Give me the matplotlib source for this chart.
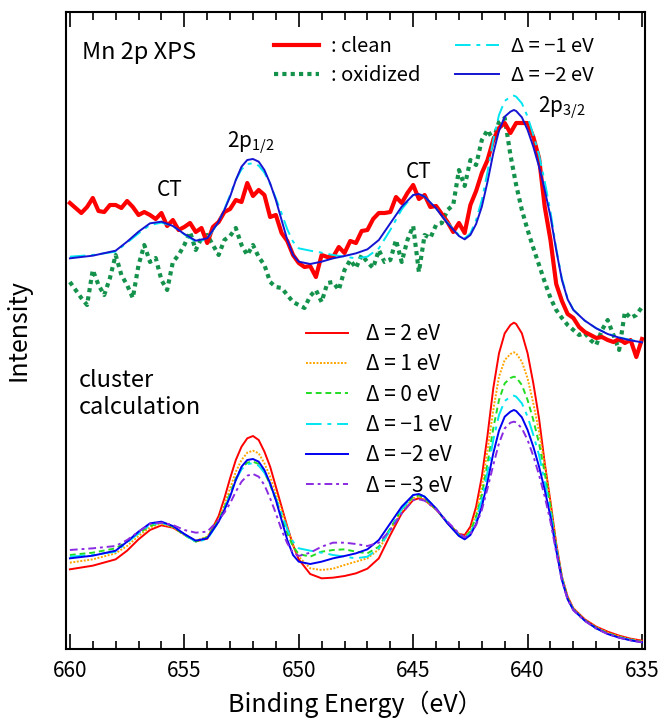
import matplotlib.pyplot as plt
import numpy as np
from matplotlib.ticker import MultipleLocator

plt.rcParams['font.family'] = ['Noto Sans CJK JP', 'DejaVu Sans']
plt.rcParams['mathtext.default'] = 'regular'

# measured XPS spectra (arb. units), 660 -> 635 eV in 0.25 eV steps
exp_energy = np.linspace(660, 635, 101)
clean = [1338, 1323, 1308, 1326, 1353, 1314, 1311, 1332, 1332, 1323,
         1344, 1326, 1302, 1311, 1302, 1290, 1308, 1269, 1287, 1257,
         1266, 1278, 1251, 1263, 1218, 1266, 1281, 1311, 1320, 1347,
         1341, 1398, 1359, 1377, 1362, 1296, 1302, 1248, 1224, 1182,
         1158, 1146, 1149, 1116, 1182, 1176, 1176, 1206, 1188, 1224,
         1218, 1254, 1257, 1290, 1308, 1308, 1311, 1356, 1338, 1368,
         1392, 1350, 1362, 1326, 1329, 1305, 1281, 1251, 1278, 1248,
         1332, 1374, 1428, 1467, 1527, 1563, 1578, 1548, 1578, 1578,
         1578, 1536, 1473, 1326, 1227, 1095, 1044, 1005, 993, 966,
         951, 942, 933, 936, 927, 921, 930, 918, 927, 876, 930]
oxidized = [1101, 1077, 1053, 1032, 1137, 1092, 1062, 1113, 1182, 1122,
            1092, 1053, 1152, 1212, 1161, 1173, 1107, 1077, 1161, 1182,
            1212, 1251, 1197, 1233, 1242, 1212, 1182, 1227, 1239, 1263,
            1212, 1182, 1212, 1176, 1152, 1101, 1086, 1083, 1062, 1041,
            1032, 1023, 1059, 1077, 1041, 1098, 1101, 1077, 1137, 1167,
            1143, 1182, 1161, 1143, 1197, 1161, 1167, 1227, 1161, 1227,
            1269, 1131, 1242, 1233, 1272, 1278, 1317, 1332, 1437, 1389,
            1467, 1452, 1527, 1557, 1527, 1581, 1593, 1482, 1392, 1317,
            1257, 1203, 1152, 1101, 1053, 1017, 993, 972, 957, 942,
            948, 927, 912, 957, 987, 942, 897, 1011, 993, 1002, 1026]

# cluster calculation for several charge-transfer energies
calc_energy = [660, 659, 658, 657.5, 657, 656.5, 656, 655.5, 655, 654.5, 654, 653.5,
               653.25, 653, 652.75, 652.5, 652.25, 652, 651.75, 651.5, 651.25, 651,
               650.75, 650.5, 650.25, 650, 649.5, 649, 648.5, 648, 647.5, 647, 646.5,
               646, 645.5, 645, 644.75, 644.5, 644, 643.5, 643, 642.75, 642.5, 642.25,
               642, 641.75, 641.5, 641.25, 641, 640.75, 640.6, 640.5, 640.25, 640,
               639.75, 639.5, 639.25, 639, 638.75, 638.5, 638.25, 638, 637.5, 637,
               636.5, 636, 635.5, 635]
calc_p2 = [239, 250, 269, 295, 329, 357, 371, 364, 344, 323, 331, 399,
           452, 512, 567, 607, 632, 639, 627, 592, 547, 487, 427, 367, 312, 269,
           225, 212, 214, 219, 227, 241, 272, 342, 407, 447, 452, 447, 419, 379,
           345, 342, 367, 427, 517, 642, 782, 887, 947, 972, 979, 975, 947, 887,
           797, 692, 557, 442, 317, 217, 157, 122, 89, 67, 52, 40, 31, 25]
calc_p1 = [259, 269, 287, 309, 339, 365, 375, 365, 342, 325, 337, 387,
           432, 482, 532, 567, 589, 595, 587, 557, 517, 467, 417, 362, 312, 277,
           242, 237, 241, 252, 262, 272, 299, 357, 415, 452, 457, 449, 419, 379,
           342, 335, 357, 407, 487, 597, 717, 817, 867, 885, 890, 887, 862, 812,
           737, 652, 552, 437, 312, 215, 154, 121, 87, 65, 49, 38, 29, 23]
calc_0 = [282, 289, 302, 322, 347, 369, 379, 367, 342, 322, 335, 387,
          425, 467, 512, 542, 559, 562, 555, 532, 492, 447, 397, 347, 307, 285,
          277, 292, 297, 299, 292, 287, 307, 362, 419, 457, 461, 452, 419, 379,
          342, 335, 352, 397, 462, 557, 662, 747, 797, 813, 817, 815, 792, 747,
          687, 617, 527, 427, 307, 213, 152, 119, 86, 63, 47, 36, 28, 22]
calc_m1 = [277, 282, 292, 319, 347, 372, 379, 369, 344, 322, 329, 382,
           419, 462, 507, 539, 555, 557, 550, 529, 495, 452, 407, 359, 322, 302,
           295, 289, 282, 277, 272, 277, 302, 357, 419, 462, 465, 457, 422, 379,
           342, 332, 347, 387, 447, 532, 627, 702, 744, 757, 760, 757, 737, 697,
           642, 582, 502, 412, 302, 211, 151, 118, 85, 62, 46, 35, 27, 21]
calc_m2 = [272, 280, 295, 322, 352, 377, 382, 369, 345, 325, 332, 382,
           417, 457, 507, 547, 567, 570, 562, 537, 497, 447, 387, 327, 282, 262,
           255, 262, 272, 279, 287, 299, 327, 377, 427, 462, 465, 457, 422, 377,
           339, 329, 342, 375, 427, 502, 587, 655, 697, 712, 717, 714, 695, 657,
           607, 547, 477, 397, 297, 207, 149, 117, 85, 62, 45, 34, 26, 20]
calc_m3 = [297, 302, 309, 327, 352, 375, 379, 372, 357, 349, 352, 387,
           409, 437, 472, 502, 520, 525, 517, 492, 452, 407, 357, 317, 289, 279,
           289, 307, 319, 319, 315, 309, 319, 357, 407, 447, 449, 445, 419, 382,
           347, 335, 345, 372, 417, 482, 552, 617, 662, 679, 682, 680, 662, 627,
           579, 522, 457, 382, 290, 205, 148, 116, 84, 61, 45, 34, 26, 20]

top_offset = 900  # calculated spectra shifted up to compare with experiment

fig = plt.figure(figsize=(6.61, 7.19), dpi=100)
ax = fig.add_axes([66 / 661, 1 - 649 / 719, 579 / 661, 637 / 719])

# upper part: experiment vs calculation
l_ox, = ax.plot(exp_energy, oxidized, color='#14924c', lw=3, ls=(0, (1, 1)),
                dash_capstyle='butt')
l_cl, = ax.plot(exp_energy, clean, color='#ff0000', lw=3)
l_c1, = ax.plot(calc_energy, np.array(calc_m1) + top_offset, color='#00e5f0',
                lw=1.4, ls=(0, (8, 3, 2, 3)))
l_c2, = ax.plot(calc_energy, np.array(calc_m2) + top_offset, color='#1414d2', lw=1.4)

leg1 = ax.legend([l_cl, l_ox, l_c1, l_c2],
                 [': clean', ': oxidized', 'Δ = −1 eV', 'Δ = −2 eV'],
                 ncol=2, loc='upper left', bbox_to_anchor=(0.36, 0.963),
                 frameon=False, fontsize=14.5, handlelength=2.2,
                 handletextpad=0.6, columnspacing=1.7, labelspacing=0.4,
                 borderpad=0, borderaxespad=0)
ax.add_artist(leg1)

# lower part: cluster calculation
styles = [
    (calc_p2, '#ff0000', '-', 'Δ = 2 eV'),
    (calc_p1, '#ffa500', (0, (1, 0.8)), 'Δ = 1 eV'),
    (calc_0, '#22dd22', (0, (3, 2)), 'Δ = 0 eV'),
    (calc_m1, '#00e5f0', (0, (8, 3, 2, 3)), 'Δ = −1 eV'),
    (calc_m2, '#0000f0', '-', 'Δ = −2 eV'),
    (calc_m3, '#8a2be2', (0, (4, 2, 1.5, 2)), 'Δ = −3 eV'),
]
for vals, col, ls, lab in styles:
    ax.plot(calc_energy, vals, color=col, ls=ls, lw=1.4, label=lab)

ax.legend(loc='upper left', bbox_to_anchor=(0.415, 0.512), frameon=False,
          fontsize=15, handlelength=2.0, handletextpad=0.85,
          labelspacing=0.4, borderpad=0, borderaxespad=0)

# labels inside the plot
ax.text(0.028, 0.936, 'Mn 2p XPS', transform=ax.transAxes, fontsize=17,
        ha='left', va='center')
ax.text(0.022, 0.40, 'cluster\ncalculation', transform=ax.transAxes,
        fontsize=17, ha='left', va='center', linespacing=1.25)
ax.text(655.65, 1377, 'CT', fontsize=15, ha='center', va='center')
ax.text(644.75, 1431, 'CT', fontsize=15, ha='center', va='center')
ax.text(652.1, 1518, '2p$_{1/2}$', fontsize=15, ha='center', va='center')
ax.text(638.5, 1623, '2p$_{3/2}$', fontsize=15, ha='center', va='center')

ax.set_xlim(660.17, 634.87)
ax.set_ylim(0, 1911)
ax.set_yticks([])
ax.xaxis.set_major_locator(MultipleLocator(5))
ax.xaxis.set_minor_locator(MultipleLocator(1))
ax.tick_params(axis='x', which='both', direction='in', top=True, width=1.2)
ax.tick_params(axis='x', which='major', length=11, labelsize=15, pad=8)
ax.tick_params(axis='x', which='minor', length=5.5)
for s in ax.spines.values():
    s.set_linewidth(1.5)

ax.set_xlabel('Binding Energy（eV）', fontsize=18, labelpad=6)
ax.set_ylabel('Intensity', fontsize=18, labelpad=25)

fig.savefig('out.png', dpi=100)
